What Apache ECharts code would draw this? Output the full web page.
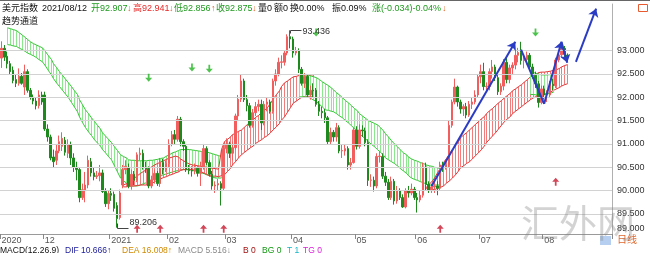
<!DOCTYPE html>
<html><head><meta charset="utf-8">
<script src="https://cdn.jsdelivr.net/npm/echarts@6/dist/echarts.min.js"></script>
<style>html,body{margin:0;padding:0;background:#fff}#c{width:650px;height:253px}</style>
</head><body><div id="c"></div>
<script>
// ---- data: daily candles [open, close, low, high], 2020-11-10 .. 2021-08-12 ----
const candles = [
[92.84,93.05,92.63,93.20],[93.05,92.86,92.78,93.12],[92.88,92.72,92.62,92.98],[92.72,92.55,92.50,92.78],[92.58,92.36,92.30,92.66],
[92.38,92.30,92.22,92.50],[92.30,92.45,92.25,92.62],[92.45,92.30,92.27,92.52],[92.22,92.55,92.05,92.70],[92.55,92.15,92.10,92.60],
[92.15,92.00,91.95,92.20],[92.00,91.92,91.85,92.06],[91.92,91.82,91.74,92.00],[91.82,92.05,91.76,92.15],[92.05,91.90,91.84,92.12],
[92.05,91.32,91.28,92.12],[91.32,91.15,91.05,91.42],[91.15,90.70,90.65,91.20],[90.72,90.62,90.50,90.88],[90.65,90.85,90.55,91.00],
[90.85,91.05,90.80,91.18],[90.95,91.12,90.85,91.25],[91.08,90.82,90.75,91.15],[90.80,90.98,90.70,91.10],[90.98,90.70,90.55,91.05],
[90.70,90.50,90.40,90.80],[90.50,90.45,90.22,90.62],[90.45,89.85,89.75,90.50],[89.85,90.02,89.80,90.15],[90.00,90.12,89.75,90.40],
[90.12,90.65,90.05,90.75],[90.62,90.38,90.30,90.70],[90.38,90.30,90.22,90.50],[90.30,90.32,90.25,90.42],[90.32,90.38,90.20,90.55],
[90.38,89.98,89.95,90.45],[89.98,89.72,89.65,90.05],[89.72,89.94,89.60,90.00],
[89.94,89.90,89.78,90.05],[89.92,89.62,89.55,89.98],[89.68,89.40,89.206,89.75],[89.42,89.95,89.38,90.02],[90.12,90.45,90.05,90.55],
[90.45,90.52,90.35,90.65],[90.50,90.10,90.05,90.58],[90.10,90.35,90.02,90.45],[90.35,90.22,90.12,90.42],[90.22,90.77,90.18,90.82],
[90.77,90.80,90.65,90.92],[90.80,90.50,90.45,90.88],[90.50,90.47,90.38,90.62],[90.47,90.10,90.05,90.52],[90.10,90.23,90.05,90.32],
[90.23,90.37,90.15,90.45],[90.37,90.15,90.10,90.42],[90.15,90.60,90.08,90.70],[90.60,90.45,90.35,90.68],[90.45,90.58,90.40,90.65],
[90.58,91.00,90.50,91.10],[91.00,91.20,90.95,91.28],[91.20,91.10,91.00,91.30],[91.10,91.53,91.05,91.60],[91.53,91.05,90.95,91.58],
[91.05,90.95,90.85,91.10],[90.95,90.45,90.40,91.00],[90.45,90.43,90.35,90.55],[90.43,90.42,90.30,90.52],[90.42,90.48,90.35,90.58],
[90.48,90.37,90.30,90.52],[90.37,90.50,90.10,90.62],[90.50,90.90,90.45,91.00],[90.90,90.60,90.55,90.95],[90.60,90.35,90.30,90.65],
[90.35,90.10,90.02,90.42],[90.10,90.12,89.95,90.20],[90.12,90.15,90.00,90.25],[90.15,90.05,89.68,90.20],[90.05,90.90,90.00,91.00],
[90.90,91.00,90.80,91.12],[91.00,90.80,90.70,91.05],[90.80,90.92,90.65,91.05],[90.92,91.60,90.88,91.65],[91.60,91.96,91.50,92.05],
[91.96,92.35,91.90,92.48],[92.35,91.95,91.90,92.40],[91.95,91.82,91.70,92.05],[91.82,91.40,91.35,91.88],[91.40,91.67,91.35,91.75],
[91.67,91.80,91.60,91.90],[91.80,91.85,91.70,91.95],[91.85,91.45,91.30,91.95],[91.45,91.85,91.40,91.92],[91.85,91.90,91.70,92.00],
[91.90,91.70,91.65,91.95],[91.70,92.35,91.65,92.40],[92.35,92.50,92.25,92.60],[92.50,92.75,92.45,92.85],[92.75,92.76,92.62,92.90],
[92.75,92.95,92.68,93.00],[92.95,93.30,92.90,93.35],[93.30,93.25,93.05,93.436],
[93.25,92.95,92.85,93.30],[92.95,93.00,92.90,93.08],[93.00,92.60,92.52,93.05],[92.60,92.30,92.25,92.65],[92.30,92.45,92.20,92.52],
[92.45,92.05,92.00,92.50],[92.05,92.15,91.95,92.25],[92.15,92.14,92.00,92.30],[92.15,91.85,91.80,92.20],[91.85,91.70,91.60,91.92],
[91.70,91.67,91.55,91.80],[91.67,91.56,91.45,91.75],[91.56,91.05,91.00,91.60],[91.05,91.25,91.00,91.35],[91.25,91.15,91.05,91.30],
[91.15,91.35,91.05,91.45],[91.35,90.85,90.80,91.40],[90.85,90.86,90.70,90.98],[90.85,90.90,90.75,91.00],[90.90,90.55,90.45,90.95],
[90.55,90.60,90.45,90.70],[90.60,91.30,90.58,91.35],
[91.30,90.95,90.88,91.38],[90.95,91.30,90.90,91.42],[91.30,91.28,91.15,91.40],[91.28,91.03,90.95,91.35],[91.03,90.22,90.10,91.10],
[90.22,90.23,90.08,90.35],[90.22,90.10,89.98,90.30],[90.10,90.73,90.05,90.80],[90.73,90.74,90.60,90.85],[90.73,90.31,90.25,90.80],
[90.31,90.18,90.10,90.40],[90.18,89.85,89.80,90.25],[89.85,90.20,89.80,90.30],[90.20,89.78,89.70,90.25],[89.78,90.00,89.72,90.10],
[90.00,89.85,89.80,90.05],[89.85,89.65,89.63,89.92],[89.65,90.00,89.62,90.05],[90.00,89.95,89.85,90.10],[89.95,90.03,89.90,90.15],
[90.03,89.85,89.80,90.08],
[89.85,89.80,89.53,89.95],[89.80,89.90,89.75,90.00],[89.90,90.50,89.85,90.60],[90.50,90.13,90.00,90.60],[90.13,90.00,89.95,90.20],
[90.00,90.08,89.95,90.15],[90.08,90.10,89.95,90.20],[90.10,90.05,89.90,90.20],[90.05,90.55,90.00,90.62],[90.55,90.50,90.40,90.62],
[90.50,90.55,90.45,90.62],[90.55,91.40,90.50,91.50],[91.40,91.90,91.35,91.95],[91.90,92.22,91.85,92.40],[92.22,91.90,91.80,92.25],
[91.90,91.75,91.65,91.95],[91.75,91.80,91.60,91.85],[91.80,91.62,91.55,91.88],[91.62,91.85,91.58,91.92],[91.85,91.90,91.75,92.00],
[91.90,92.05,91.85,92.15],[92.05,92.44,92.00,92.50],
[92.44,92.55,92.30,92.70],[92.55,92.23,92.15,92.74],[92.23,92.24,92.12,92.32],[92.23,92.55,92.15,92.62],[92.55,92.65,92.40,92.80],
[92.65,92.42,92.35,92.70],[92.42,92.12,92.05,92.48],[92.12,92.24,92.05,92.30],[92.24,92.75,92.15,92.82],[92.75,92.38,92.30,92.85],
[92.38,92.63,92.30,92.70],[92.63,92.69,92.50,92.75],[92.69,92.90,92.60,93.00],[92.90,92.96,92.75,93.06],[92.96,92.79,92.70,93.19],
[92.79,92.81,92.62,92.90],[92.81,92.90,92.70,92.98],[92.90,92.65,92.58,92.95],[92.65,92.47,92.40,92.72],[92.47,92.29,92.20,92.55],
[92.29,91.89,91.78,92.35],[91.89,92.18,91.85,92.25],
[92.18,92.05,91.95,92.25],[92.05,92.06,91.90,92.15],[92.05,92.28,92.00,92.35],[92.28,92.25,92.15,92.40],[92.25,92.80,92.20,92.85],
[92.80,92.91,92.75,93.00],[92.91,93.05,92.85,93.18],[93.05,92.92,92.85,93.10],[92.907,92.875,92.856,92.941]
];
const firstDate = [2020, 10, 10];   // 2020-11-10 (month 0-based)
const lastDate = [2021, 7, 12];     // 2021-08-12
const holidays = ['2021-01-01'];
const emptySlots = 15;

// trend channel bands (upper / lower edge per bar), start = first bar index
const bandAStart = 2;
const bandAUpper = [93.49,93.47,93.45,93.43,93.38,93.33,93.28,93.24,93.19,93.15,93.12,93.09,93.06,
92.98,92.89,92.81,92.72,92.64,92.55,92.47,92.39,92.31,92.23,92.14,92.06,
91.95,91.84,91.73,91.65,91.56,91.48,91.40,91.32,91.24,91.17,91.10,91.03,90.94,90.86,90.77,
90.73,90.70,90.66,90.65,90.65,90.64,90.64,90.64,90.64,90.65,90.65,90.66,90.67,90.69,90.70,
90.74,90.77,90.81,90.83,90.86,90.88,90.88,90.88,90.88,90.87,90.86,90.85,90.84,90.84,90.83,90.81,90.79,90.77,90.75,90.73];
const bandALower = [93.13,93.12,93.10,93.09,93.05,93.02,92.98,92.95,92.92,92.89,92.85,92.80,92.76,
92.67,92.57,92.48,92.40,92.31,92.23,92.15,92.07,91.99,91.89,91.79,91.69,
91.58,91.46,91.35,91.26,91.18,91.09,91.02,90.95,90.88,90.81,90.73,90.66,90.53,90.40,90.27,
90.21,90.16,90.10,90.10,90.10,90.10,90.12,90.15,90.17,90.20,90.24,90.27,90.29,90.32,90.34,
90.36,90.38,90.40,90.42,90.43,90.45,90.45,90.45,90.45,90.43,90.42,90.40,90.38,90.36,90.34,90.32,90.29,90.27,90.27,90.27];
const bandBStart = 42;
const bandBUpper = [90.12,90.15,90.19,90.23,90.27,90.32,90.37,90.41,
90.45,90.48,90.52,90.55,90.58,90.61,90.64,90.67,90.70,90.72,90.74,90.72,90.68,
90.64,90.60,90.57,90.55,90.54,90.53,90.52,90.51,90.50,90.49,90.48,90.47,90.46,
90.88,91.05,91.10,91.15,91.20,91.23,91.27,91.30,91.36,91.42,91.48,91.52,91.57,91.61,91.67,91.72,91.78,
91.87,91.97,92.06,92.14,92.23,92.31,92.35,92.40,92.44,92.45,92.47,92.48,92.48,92.48,92.48,92.48];
const bandBLower = [90.08,90.08,90.09,90.10,90.10,90.11,90.12,90.12,90.12,90.12,90.16,90.19,90.23,90.25,90.28,
90.30,90.33,90.35,90.38,90.40,90.43,90.45,90.45,90.45,90.45,90.43,90.42,90.40,90.37,90.35,90.32,90.31,90.31,90.30,
90.32,90.34,90.41,90.48,90.55,90.62,90.70,90.77,90.82,90.87,90.92,90.96,91.01,91.05,91.09,91.14,91.18,
91.24,91.31,91.37,91.44,91.51,91.58,91.68,91.78,91.88,91.92,91.97,92.01,92.01,92.01,92.01,92.01];
const bandCStart = 103;
const bandCUpper = [92.48,92.48,92.48,92.48,92.46,92.44,92.42,92.38,92.33,92.29,
92.25,92.20,92.16,92.10,92.05,91.99,91.93,91.88,91.82,91.76,91.71,91.65,91.60,91.55,91.50,91.47,91.44,91.41,91.35,91.28,
91.22,91.15,91.07,91.00,90.94,90.87,90.81,90.77,90.72,90.68,90.65,90.63,90.60,90.58,90.55,90.53,90.52,90.50,90.49,90.47];
const bandCLower = [92.01,92.01,92.01,92.01,91.98,91.94,91.91,91.85,91.79,91.73,
91.72,91.70,91.69,91.65,91.60,91.56,91.50,91.45,91.39,91.33,91.28,91.22,91.16,91.11,91.05,90.99,90.94,90.88,90.82,90.76,
90.70,90.66,90.62,90.58,90.53,90.47,90.42,90.37,90.32,90.27,90.24,90.22,90.19,90.17,90.14,90.12,90.12,90.12,90.12,90.12];
const bandDStart = 147;
const bandDUpper = [90.08,90.14,90.21,90.27,90.38,90.49,90.60,90.69,90.79,90.88,
90.96,91.05,91.13,91.19,91.24,91.30,91.36,91.42,91.48,91.54,91.59,91.65,91.71,91.76,91.82,91.88,91.93,91.99,92.04,92.09,
92.14,92.18,92.23,92.27,92.33,92.38,92.44,92.47,92.50,92.53,92.54,92.54,92.55,92.56,92.58,92.59,92.62,92.65,92.68,92.70];
const bandDLower = [90.04,90.03,90.03,90.02,90.05,90.07,90.10,90.16,90.21,90.27,
90.34,90.42,90.49,90.53,90.58,90.62,90.68,90.75,90.81,90.88,90.96,91.03,91.10,91.17,91.24,91.32,91.40,91.48,91.54,91.59,
91.65,91.70,91.75,91.80,91.85,91.90,91.95,91.99,92.02,92.06,92.07,92.07,92.08,92.11,92.15,92.18,92.21,92.24,92.27,92.29];
const bandEStart = 183;
const bandEUpper = [92.55,92.53,92.51,92.50,92.48,92.48,92.48,92.49,92.50];
const bandELower = [92.06,92.06,92.05,92.05,92.05,92.06,92.07,92.09,92.11];

// signals [barIndex, price]
const sellSignals = [[51,92.42],[66,92.64],[72,92.61],[109,93.39],[185,93.39]];
const buySignals = [[47,89.18],[55,89.18],[70,89.18],[77,89.18],[152,89.18],[192,90.19]];
// extremes [barIndex, price]
const extremes = [[100,93.436],[40,89.206]];
// hand-drawn trend arrows: [from, to, arrowAtEnd]
const trendSegments = [
  [[149,90.10],[178,93.19],1],
  [[180,93.02],[188,91.86],0],
  [[188,91.86],[194,93.19],1],
  [[194,93.19],[196,92.74],1],
  [[199,92.76],[206,93.90],1]
];
const gridValues = [89.5,90.0,90.5,91.0,91.5,92.0,92.5,93.0];

// ---- build categories ----
const categories = [];
{
  const d = new Date(Date.UTC(firstDate[0], firstDate[1], firstDate[2]));
  const end = Date.UTC(lastDate[0], lastDate[1], lastDate[2]);
  while (d.getTime() <= end) {
    const wd = d.getUTCDay();
    const s = d.toISOString().slice(0,10);
    if (wd !== 0 && wd !== 6 && holidays.indexOf(s) < 0) categories.push(s);
    d.setUTCDate(d.getUTCDate() + 1);
  }
}
for (let k = 0; k < emptySlots; k++) categories.push('pad' + k);
const monthStart = {};
for (let i = 0; i < candles.length; i++) {
  const m = categories[i].slice(0,7);
  if (i === 0 || m !== categories[i-1].slice(0,7)) {
    const mm = categories[i].slice(5,7);
    monthStart[i] = (i === 0 || mm === '01') ? categories[i].slice(0,4) : mm;
  }
}
const isMonthStart = (idx) => monthStart[idx] !== undefined;

const F = "'Liberation Sans','Noto Sans CJK SC',sans-serif";
const FS = 9;
const GREEN_H = '#8ce88c', GREEN_E = '#38c838', RED_H = '#f27c7c', RED_E = '#e33636';

function bandSeries(start, upper, lower, hatch, edge, z) {
  const data = upper.map((u, k) => [start + k, u, lower[k]]);
  return {
    type: 'custom', coordinateSystem: 'cartesian2d', silent: true, animation: false, z: z, clip: true,
    encode: { x: 0, y: [1, 2] }, data: data,
    renderItem: function (params, api) {
      const k = params.dataIndex;
      const i = api.value(0);
      const pu = api.coord([i, api.value(1)]), pl = api.coord([i, api.value(2)]);
      const x = Math.round(pu[0]) + 0.5;
      const ch = [{ type: 'line', shape: { x1: x, y1: pu[1], x2: x, y2: pl[1] }, style: { stroke: hatch, lineWidth: 1 } }];
      if (k > 0) {
        const qu = api.coord([i - 1, upper[k - 1]]), ql = api.coord([i - 1, lower[k - 1]]);
        const x0 = Math.round(qu[0]) + 0.5;
        ch.push({ type: 'line', shape: { x1: x0, y1: qu[1], x2: x, y2: pu[1] }, style: { stroke: edge, lineWidth: 1 } });
        ch.push({ type: 'line', shape: { x1: x0, y1: ql[1], x2: x, y2: pl[1] }, style: { stroke: edge, lineWidth: 1 } });
      }
      return { type: 'group', children: ch };
    }
  };
}

const chart = echarts.init(document.getElementById('c'), null, { renderer: 'canvas' });
const lastClose = candles[candles.length - 1][1];

function txt(text, x, y, fill, size) {
  return { type: 'text', x: x, y: y, z: 100, silent: true,
    style: { text: text, fill: fill, fontSize: size || FS, fontFamily: F, verticalAlign: 'middle', align: 'left' } };
}
const G = '#1f9a1f', R = '#e82828', O = '#e06020', K = '#111';

const option = {
  animation: false,
  backgroundColor: '#ffffff',
  grid: { left: 0, right: 38, top: 4, bottom: 19, containLabel: false, outerBoundsMode: 'none' },
  xAxis: {
    type: 'category', data: categories, boundaryGap: true,
    axisLine: { show: true, lineStyle: { color: '#9a9a9a' } },
    axisTick: { show: true, interval: isMonthStart, length: 5, lineStyle: { color: '#888' } },
    axisLabel: { interval: isMonthStart, formatter: (v, idx) => monthStart[idx] || '', align: 'left', margin: 2,
      fontSize: FS, color: '#555', fontFamily: F, hideOverlap: false },
    splitLine: { show: false }
  },
  yAxis: {
    type: 'value', position: 'right', min: 89.07, max: 94.0, splitNumber: 10, minInterval: 0.5, maxInterval: 0.5,
    splitLine: { show: false }, axisTick: { show: false },
    axisLine: { show: true, lineStyle: { color: '#b0b0b0' } },
    axisLabel: {
      showMinLabel: true, showMaxLabel: false, margin: 5, fontSize: FS, color: '#333', fontFamily: F,
      formatter: function (v) {
        if (v > 93.01) return '';
        if (v < 89.2) return '{up|89.000}';
        return v.toFixed(3);
      },
      rich: { up: { padding: [0, 0, 10, 0], fontSize: FS, color: '#333', fontFamily: F } }
    }
  },
  series: [
    { type: 'line', data: [], silent: true, z: 0,
      markLine: { silent: true, symbol: 'none', animation: false, label: { show: false },
        lineStyle: { color: '#d2d2d2', type: 'solid', width: 1 },
        data: gridValues.map(v => ({ yAxis: v })) } },
    bandSeries(bandAStart, bandAUpper, bandALower, GREEN_H, GREEN_E, 1),
    bandSeries(bandBStart, bandBUpper, bandBLower, RED_H, RED_E, 1),
    bandSeries(bandCStart, bandCUpper, bandCLower, GREEN_H, GREEN_E, 1),
    bandSeries(bandDStart, bandDUpper, bandDLower, RED_H, RED_E, 1),
    bandSeries(bandEStart, bandEUpper, bandELower, GREEN_H, GREEN_E, 1),
    { type: 'candlestick', data: candles, barWidth: 2, z: 3,
      itemStyle: { color: '#f25e5e', color0: '#1e8a1e', borderColor: '#f25e5e', borderColor0: '#1e8a1e', borderWidth: 1 },
      markLine: { silent: true, symbol: 'none', animation: false, data: [{ yAxis: lastClose }],
        lineStyle: { opacity: 0 },
        label: { position: 'end', formatter: lastClose.toFixed(3), color: '#e8302a', fontSize: FS, fontFamily: F, distance: 5, padding: [5, 0, 0, 0] } } },
    { type: 'line', data: [], silent: true, z: 5,
      markLine: { silent: true, animation: false, symbolSize: 8,
        lineStyle: { color: '#2a3cc4', width: 2, type: 'solid' }, label: { show: false },
        data: trendSegments.map(s => [{ coord: s[0], symbol: 'none' }, { coord: s[1], symbol: s[2] ? 'arrow' : 'none' }]) } },
    { type: 'scatter', data: sellSignals, z: 6, silent: true,
      symbol: 'path://M3,0L5,0L5,4L8,4L4,8L0,4L3,4Z', symbolSize: [7, 8], itemStyle: { color: '#22b522' } },
    { type: 'scatter', data: buySignals, z: 6, silent: true,
      symbol: 'path://M4,0L8,4L5,4L5,8L3,8L3,4L0,4Z', symbolSize: [7, 8], itemStyle: { color: '#c8182e' } },
    { type: 'custom', coordinateSystem: 'cartesian2d', data: extremes, z: 7, silent: true, clip: false,
      encode: { x: 0, y: 1 },
      renderItem: function (params, api) {
        const v = api.value(1);
        const p = api.coord([api.value(0), v]);
        const x = Math.round(p[0]) + 0.5, y = Math.round(p[1]) + 0.5;
        const high = params.dataIndex === 0;
        const pts = high ? [[x, y + 3], [x, y], [x + 11, y]] : [[x, y - 5], [x, y], [x + 11, y]];
        return { type: 'group', children: [
          { type: 'polyline', shape: { points: pts }, style: { stroke: '#444', lineWidth: 1, fill: null } },
          { type: 'text', x: x + 12, y: high ? y + 1 : y - 6,
            style: { text: v.toFixed(3), fill: '#333', fontSize: FS, fontFamily: F, verticalAlign: 'middle', align: 'left' } }
        ] };
      } }
  ],
  graphic: [
    { type: 'rect', shape: { x: 0, y: 0, width: 650, height: 1 }, style: { fill: '#666' }, silent: true, z: 100 },
    txt('美元指数', 2, 9, K), txt('2021/08/12', 42, 9, K),
    txt('开92.907', 91, 9, G), txt('↓', 127, 9, O),
    txt('高92.941', 133, 9, R), txt('↓', 169, 9, O),
    txt('低92.856', 174, 9, G), txt('↑', 211, 9, O),
    txt('收92.875', 216, 9, G), txt('↓', 252, 9, O),
    txt('量0', 258, 9, K), txt('额0', 274, 9, K), txt('换0.00%', 290, 9, K), txt('振0.09%', 332, 9, K),
    txt('涨(-0.034)-0.04%', 372, 9, G), txt('↓', 442, 9, O),
    txt('趋势通道', 2, 22, K),
    { type: 'rect', shape: { x: 638.5, y: 4.5, width: 9, height: 7 }, style: { fill: null, stroke: '#e85a30', lineWidth: 1 }, silent: true, z: 100 },
    { type: 'rect', shape: { x: 600, y: 236, width: 11, height: 9 }, style: { fill: '#b6cff0' }, silent: true, z: 100 },
    txt('日线', 617, 240, '#e0682e', 10),
    txt('MACD(12,26,9)', 0, 251, K, 8.5), txt('DIF 10.666↑', 65, 251, '#1a1a9a', 8.5), txt('DEA 16.008↑', 122, 251, '#d08a00', 8.5),
    txt('MACD 5.516↓', 178, 251, '#888', 8.5), txt('B 0', 243, 251, '#a01010', 8.5), txt('BG 0', 262, 251, '#109a10', 8.5),
    txt('T 1', 287, 251, '#10b8c8', 8.5), txt('TG 0', 303, 251, '#d81ed8', 8.5),
    { type: 'text', x: 521, y: 223, z: 120, silent: true,
      style: { text: '汇外网', fill: 'rgba(130,130,130,0.35)', fontSize: 38, fontFamily: "'Noto Sans CJK SC',sans-serif", verticalAlign: 'middle', align: 'left' } }
  ]
};
chart.setOption(option);
</script>
</body></html>
